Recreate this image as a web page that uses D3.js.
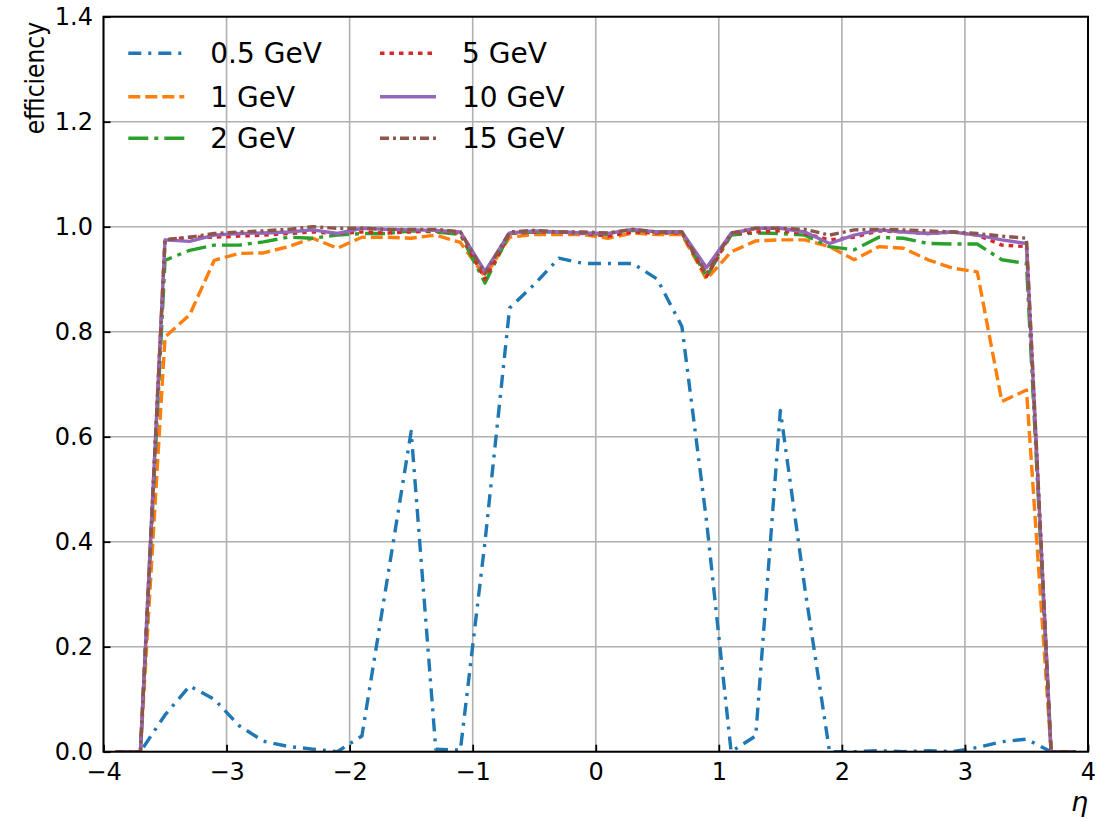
<!DOCTYPE html>
<html>
<head>
<meta charset="utf-8">
<script src="https://cdn.jsdelivr.net/npm/d3@7"></script>
<style>
  body { margin: 0; background: #fff; }
  svg { display: block; font-family: "DejaVu Sans", sans-serif; }
</style>
</head>
<body>
<script>
// eta bin centres
var eta = [-3.9, -3.7, -3.5, -3.3, -3.1, -2.9, -2.7, -2.5, -2.3, -2.1,
           -1.9, -1.7, -1.5, -1.3, -1.1, -0.9, -0.7, -0.5, -0.3, -0.1,
            0.1,  0.3,  0.5,  0.7,  0.9,  1.1,  1.3,  1.5,  1.7,  1.9,
            2.1,  2.3,  2.5,  2.7,  2.9,  3.1,  3.3,  3.5,  3.7,  3.9];

var seriesNames = ['0.5 GeV', '1 GeV', '2 GeV', '5 GeV', '10 GeV', '15 GeV'];

var eff05 = [0, 0, 0.07, 0.125, 0.10, 0.05, 0.02, 0.01, 0.005, 0.0,
             0.03, 0.32, 0.61, 0.005, 0.003, 0.40, 0.845, 0.89, 0.94, 0.93,
             0.93, 0.93, 0.90, 0.81, 0.44, 0.0, 0.03, 0.65, 0.31, 0.0,
             0.0, 0.002, 0.0, 0.002, 0.0, 0.008, 0.019, 0.024, 0.0, 0.0];

var eff1 = [0, 0, 0.79, 0.832, 0.936, 0.949, 0.95, 0.962, 0.978, 0.959,
            0.98, 0.98, 0.978, 0.984, 0.97, 0.905, 0.98, 0.985, 0.985, 0.985,
            0.978, 0.988, 0.985, 0.985, 0.90, 0.952, 0.973, 0.975, 0.975, 0.962,
            0.937, 0.962, 0.959, 0.937, 0.921, 0.914, 0.667, 0.689, 0, 0];

var eff2 = [0, 0, 0.936, 0.955, 0.965, 0.965, 0.971, 0.98, 0.978, 0.984,
            0.987, 0.987, 0.992, 0.99, 0.985, 0.893, 0.987, 0.99, 0.99, 0.988,
            0.985, 0.993, 0.99, 0.99, 0.905, 0.984, 0.988, 0.987, 0.984, 0.962,
            0.956, 0.98, 0.978, 0.968, 0.967, 0.967, 0.937, 0.93, 0, 0];

var eff5 = [0, 0, 0.975, 0.98, 0.98, 0.982, 0.984, 0.987, 0.99, 0.987,
            0.99, 0.988, 0.99, 0.992, 0.988, 0.90, 0.987, 0.99, 0.99, 0.987,
            0.982, 0.99, 0.988, 0.988, 0.905, 0.987, 0.99, 0.992, 0.987, 0.975,
            0.98, 0.992, 0.99, 0.987, 0.99, 0.984, 0.965, 0.962, 0, 0];

var eff10 = [0, 0, 0.975, 0.972, 0.984, 0.987, 0.988, 0.99, 0.994, 0.987,
             0.997, 0.995, 0.994, 0.993, 0.99, 0.915, 0.988, 0.992, 0.99, 0.988,
             0.987, 0.995, 0.99, 0.99, 0.922, 0.987, 0.997, 0.997, 0.99, 0.968,
             0.984, 0.994, 0.99, 0.987, 0.99, 0.984, 0.975, 0.968, 0, 0];

var eff15 = [0, 0, 0.975, 0.98, 0.987, 0.99, 0.992, 0.995, 1.0, 0.997,
             0.997, 0.995, 0.995, 0.995, 0.99, 0.91, 0.99, 0.993, 0.99, 0.99,
             0.988, 0.995, 0.99, 0.99, 0.91, 0.988, 0.997, 0.997, 0.995, 0.984,
             0.994, 0.995, 0.994, 0.992, 0.99, 0.987, 0.982, 0.978, 0, 0];

var xTicks = [-4, -3, -2, -1, 0, 1, 2, 3, 4];
var yTicks = [0.0, 0.2, 0.4, 0.6, 0.8, 1.0, 1.2, 1.4];

var allSeries = [eff05, eff1, eff2, eff5, eff10, eff15];

// line styles (matplotlib tab10 + dash patterns)
var colors = ['#1f77b4', '#ff7f0e', '#2ca02c', '#d62728', '#9467bd', '#8c564b'];
var dashes = ['13,7,3,7', '12,5', '20,6,4,6', '4.5,5', null, '9,4,3,4'];

var width = 1102, height = 819;
var margin = { top: 16.7, right: 14, bottom: 67.3, left: 103.5 };

var svg = d3.select('body').append('svg')
    .attr('width', width)
    .attr('height', height);

var x = d3.scaleLinear().domain([-4, 4]).range([margin.left, width - margin.right]);
var y = d3.scaleLinear().domain([0, 1.4]).range([height - margin.bottom, margin.top]);

// grid
var grid = svg.append('g').attr('class', 'grid');
grid.selectAll('.gx').data(xTicks).enter().append('line')
    .attr('x1', function (d) { return x(d); })
    .attr('x2', function (d) { return x(d); })
    .attr('y1', y(0)).attr('y2', y(1.4))
    .attr('stroke', '#b0b0b0').attr('stroke-width', 1.6);
grid.selectAll('.gy').data(yTicks).enter().append('line')
    .attr('x1', x(-4)).attr('x2', x(4))
    .attr('y1', function (d) { return y(d); })
    .attr('y2', function (d) { return y(d); })
    .attr('stroke', '#b0b0b0').attr('stroke-width', 1.6);

// curves
var line = d3.line()
    .x(function (d, i) { return x(eta[i]); })
    .y(function (d) { return y(d); });

svg.append('defs').append('clipPath').attr('id', 'clip')
    .append('rect')
    .attr('x', x(-4)).attr('y', y(1.4))
    .attr('width', x(4) - x(-4)).attr('height', y(0) - y(1.4));

var curves = svg.append('g').attr('clip-path', 'url(#clip)');
allSeries.forEach(function (s, k) {
    curves.append('path')
        .datum(s)
        .attr('d', line)
        .attr('fill', 'none')
        .attr('stroke', colors[k])
        .attr('stroke-width', 3.4)
        .attr('stroke-dasharray', dashes[k])
        .attr('stroke-linejoin', 'round');
});

// axes, ticks pointing inwards
var xAxis = d3.axisBottom(x).tickValues(xTicks)
    .tickSizeInner(-7).tickSizeOuter(0).tickPadding(11)
    .tickFormat(d3.format('d'));
var yAxis = d3.axisLeft(y).tickValues(yTicks)
    .tickSizeInner(-7).tickSizeOuter(0).tickPadding(10.5)
    .tickFormat(d3.format('.1f'));

var gx = svg.append('g')
    .attr('transform', 'translate(0,' + y(0) + ')')
    .call(xAxis);
var gy = svg.append('g')
    .attr('transform', 'translate(' + x(-4) + ',0)')
    .call(yAxis);

[gx, gy].forEach(function (g) {
    g.select('.domain').remove();
    g.selectAll('.tick line').attr('stroke', '#000').attr('stroke-width', 1.8);
    g.selectAll('.tick text')
        .attr('fill', '#000')
        .style('font-size', '24px')
        .style('font-family', '"DejaVu Sans", sans-serif');
});

// frame
svg.append('rect')
    .attr('x', x(-4)).attr('y', y(1.4))
    .attr('width', x(4) - x(-4)).attr('height', y(0) - y(1.4))
    .attr('fill', 'none')
    .attr('stroke', '#000')
    .attr('stroke-width', 2);

// axis labels
svg.append('text')
    .attr('transform', 'translate(44,22) rotate(-90)')
    .attr('text-anchor', 'end')
    .style('font-size', '26px')
    .style('font-family', '"DejaVu Sans Condensed", "DejaVu Sans", sans-serif')
    .text('efficiency');

svg.append('text')
    .attr('x', x(4))
    .attr('y', 811)
    .attr('text-anchor', 'end')
    .style('font-size', '27px')
    .style('font-style', 'italic')
    .text('η');

// legend, two columns of three
var legend = svg.append('g');
var colX = [128.3, 380];
var rowY = [53.3, 96.7, 138.3];

seriesNames.forEach(function (name, k) {
    var cx = colX[Math.floor(k / 3)];
    var cy = rowY[k % 3];
    legend.append('line')
        .attr('x1', cx).attr('x2', cx + 56)
        .attr('y1', cy).attr('y2', cy)
        .attr('stroke', colors[k])
        .attr('stroke-width', 3.4)
        .attr('stroke-dasharray', dashes[k]);
    legend.append('text')
        .attr('x', cx + 82)
        .attr('y', cy)
        .attr('dy', '0.36em')
        .style('font-size', '28px')
        .text(name);
});
</script>
</body>
</html>
